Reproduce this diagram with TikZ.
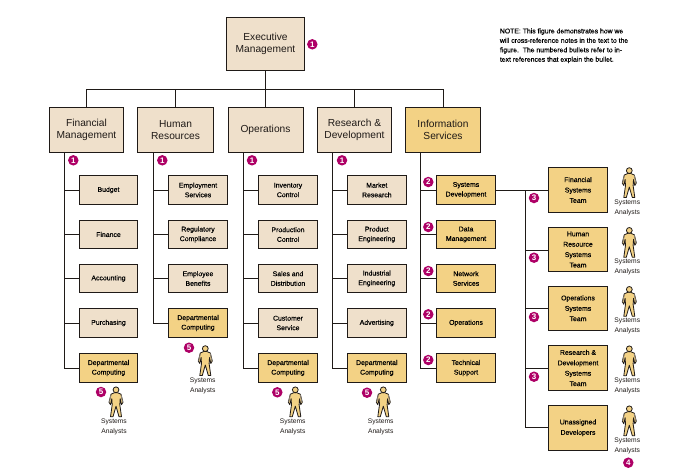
\documentclass[tikz,border=0pt]{standalone}
\usepackage{fontspec}
\setmainfont{Liberation Sans}
\newfontfamily\heavyfont[FakeBold=0.3]{Liberation Sans}
\definecolor{beigefill}{HTML}{EFE0CB}
\definecolor{goldfill}{HTML}{F3D285}
\definecolor{inkline}{HTML}{1F1A17}
\definecolor{bulletfill}{HTML}{AE0066}
\definecolor{armgray}{HTML}{8A8172}
\tikzset{
  boxbase/.style={draw=inkline,line width=1pt,align=center,text=black,inner sep=0pt},
  largebox/.style={boxbase,text=inkline,font=\fontsize{10.2}{12}\selectfont},
  execbox/.style={largebox,minimum width=78pt,minimum height=53pt},
  headbox/.style={largebox,minimum height=45.5pt},
  subbox/.style={boxbase,font=\heavyfont\fontsize{6.9}{9.6}\selectfont,minimum width=58.5pt,minimum height=28.5pt},
  teambox/.style={boxbase,font=\heavyfont\fontsize{6.9}{10.4}\selectfont,minimum width=59.4pt},
  beigebox/.style={fill=beigefill},
  goldbox/.style={fill=goldfill},
  link/.style={draw=inkline,line width=1pt},
  bullet/.style={circle,fill=bulletfill,text=white,inner sep=0pt,minimum size=10.5pt,font=\fontsize{8}{8}\selectfont\bfseries},
  roletext/.style={align=center,text=inkline,font=\fontsize{6.7}{10}\selectfont,inner sep=0pt},
  notetext/.style={align=left,anchor=north west,text=black,inner sep=0pt,font=\heavyfont\fontsize{6.85}{9.45}\selectfont},
  analyst/.pic={
    \fill[goldfill,draw=inkline,line width=0.8pt,line join=round]
      (-1.5,6) -- (-5,7.5) -- (-7,15.5) -- (-5.5,18) -- (-4.2,12) -- (-3.8,18) -- (-5.5,30) -- (-3,30) -- (0,19.5)
      -- (3,30) -- (5.5,30) -- (3.8,18) -- (4.2,12) -- (5.5,18) -- (7,15.5) -- (5,7.5) -- (1.5,6) -- cycle;
    \draw[armgray,line width=0.9pt] (-5,8) -- (-6.6,15.5) (5,8) -- (6.6,15.5);
    \fill[goldfill,draw=inkline,line width=0.8pt] (0,3.1) circle (2.9);
  }
}
\begin{document}
\begin{tikzpicture}[x=1pt,y=-1pt]
\useasboundingbox[fill=white] (0,0) rectangle (695,475);
% top levels
\node[execbox,beigebox] (exec) at (265.5,44) {Executive\\Management};
\node[headbox,beigebox,minimum width=74pt] (fin) at (86.5,129.75) {Financial\\Management};
\node[headbox,beigebox,minimum width=76pt] (hr) at (175.5,129.75) {Human\\Resources};
\node[headbox,beigebox,minimum width=75pt] (ops) at (265.5,129.75) {Operations};
\node[headbox,beigebox,minimum width=74.5pt] (rnd) at (354.5,129.75) {Research \&\\Development};
\node[headbox,goldbox,minimum width=75.5pt] (info) at (443,129.75) {Information\\Services};
\coordinate (bus) at (265.5,89.5);
\draw[link] (exec.south) -- (bus);
\draw[link] (bus) -| (fin.north);
\draw[link] (bus) -| (hr.north);
\draw[link] (bus) -- (ops.north);
\draw[link] (bus) -| (rnd.north);
\draw[link] (bus) -| (info.north);
% financial
\node[subbox,beigebox] (budget) at (108.5,190) {Budget};
\node[subbox,beigebox] (finance) at (108.5,234.5) {Finance};
\node[subbox,beigebox] (accounting) at (108.5,278.5) {Accounting};
\node[subbox,beigebox] (purchasing) at (108.5,323) {Purchasing};
\node[subbox,goldbox] (findc) at (108.5,368) {Departmental\\Computing};
\coordinate (finspine) at ([xshift=15pt]fin.south west);
\foreach \t in {budget,finance,accounting,purchasing,findc} \draw[link] (finspine) |- (\t.west);
% hr
\node[subbox,beigebox] (employment) at (198,190) {Employment\\Services};
\node[subbox,beigebox] (regulatory) at (198,234.5) {Regulatory\\Compliance};
\node[subbox,beigebox] (benefits) at (198,278.5) {Employee\\Benefits};
\node[subbox,goldbox] (hrdc) at (198,323) {Departmental\\Computing};
\coordinate (hrspine) at ([xshift=16pt]hr.south west);
\foreach \t in {employment,regulatory,benefits,hrdc} \draw[link] (hrspine) |- (\t.west);
% operations
\node[subbox,beigebox] (inventory) at (288,190) {Inventory\\Control};
\node[subbox,beigebox] (production) at (288,234.5) {Production\\Control};
\node[subbox,beigebox] (sales) at (288,278.5) {Sales and\\Distribution};
\node[subbox,beigebox] (customer) at (288,323) {Customer\\Service};
\node[subbox,goldbox] (opsdc) at (288,368) {Departmental\\Computing};
\coordinate (opsspine) at ([xshift=16pt]ops.south west);
\foreach \t in {inventory,production,sales,customer,opsdc} \draw[link] (opsspine) |- (\t.west);
% r&d
\node[subbox,beigebox] (market) at (376.8,190) {Market\\Research};
\node[subbox,beigebox] (product) at (376.8,234.5) {Product\\Engineering};
\node[subbox,beigebox] (industrial) at (376.8,278.5) {Industrial\\Engineering};
\node[subbox,beigebox] (advertising) at (376.8,323) {Advertising};
\node[subbox,goldbox] (rnddc) at (376.8,368) {Departmental\\Computing};
\coordinate (rndspine) at ([xshift=16pt]rnd.south west);
\foreach \t in {market,product,industrial,advertising,rnddc} \draw[link] (rndspine) |- (\t.west);
% information services
\node[subbox,goldbox] (sysdev) at (466,190) {Systems\\Development};
\node[subbox,goldbox] (datamgmt) at (466,234.5) {Data\\Management};
\node[subbox,goldbox] (network) at (466,278.5) {Network\\Services};
\node[subbox,goldbox] (isops) at (466,323) {Operations};
\node[subbox,goldbox] (techsup) at (466,368) {Technical\\Support};
\coordinate (infospine) at ([xshift=15.4pt]info.south west);
\foreach \t in {sysdev,datamgmt,network,isops,techsup} \draw[link] (infospine) |- (\t.west);
% teams
\node[teambox,goldbox,minimum height=45pt] (finteam) at (578,190) {Financial\\Systems\\Team};
\node[teambox,goldbox,minimum height=44.4pt] (hrteam) at (578,249.5) {Human\\Resource\\Systems\\Team};
\node[teambox,goldbox,minimum height=44pt] (opsteam) at (578,308.3) {Operations\\Systems\\Team};
\node[teambox,goldbox,minimum height=45.4pt] (rndteam) at (578,368) {Research \&\\Development\\Systems\\Team};
\node[teambox,goldbox,minimum height=45pt] (unassigned) at (578,427.8) {Unassigned\\Developers};
\coordinate (trunk) at (525.7,190);
\draw[link] (sysdev.east) -- (finteam.west);
\draw[link] (trunk) |- ([yshift=-1.2pt]hrteam.west);
\draw[link] (trunk) |- (opsteam.west);
\draw[link] (trunk) |- (rndteam.west);
\draw[link] (trunk) |- (unassigned.west);
% bullets
\node[bullet] (b0) at (312.3,44.3) {1};
\node[bullet] (b1) at (73.3,160.3) {1};
\node[bullet] (b2) at (162.3,160.3) {1};
\node[bullet] (b3) at (252,160.3) {1};
\node[bullet] (b4) at (342,160.3) {1};
\node[bullet] (c1) at (428.3,182) {2};
\node[bullet] (c2) at (428.3,227) {2};
\node[bullet] (c3) at (428.3,271) {2};
\node[bullet] (c4) at (428.3,314.3) {2};
\node[bullet] (c5) at (428.3,360) {2};
\node[bullet] (d1) at (534,198) {3};
\node[bullet] (d2) at (534,257.7) {3};
\node[bullet] (d3) at (534,317) {3};
\node[bullet] (d4) at (534,376.7) {3};
\node[bullet] (e1) at (628.3,462.7) {4};
\node[bullet] (f1) at (101,392) {5};
\node[bullet] (f2) at (189,347.7) {5};
\node[bullet] (f3) at (277.3,392.3) {5};
\node[bullet] (f4) at (367,392.7) {5};
% analysts
\pic (p1) at (116,386.7) {analyst};
\pic (p2) at (205.3,345.5) {analyst};
\pic (p3) at (295.3,386.7) {analyst};
\pic (p4) at (383.3,386.7) {analyst};
\pic (p5) at (629.3,167.5) {analyst};
\pic (p6) at (629.3,227.3) {analyst};
\pic (p7) at (629.3,286.3) {analyst};
\pic (p8) at (629.3,345.7) {analyst};
\pic (p9) at (629.3,405.7) {analyst};
\node[roletext] (a1) at (114,427.3) {Systems\\Analysts};
\node[roletext] (a2) at (202.7,385.8) {Systems\\Analysts};
\node[roletext] (a3) at (292.7,427.3) {Systems\\Analysts};
\node[roletext] (a4) at (380.7,427.3) {Systems\\Analysts};
\node[roletext] (a5) at (627.3,208.3) {Systems\\Analysts};
\node[roletext] (a6) at (627.3,267.3) {Systems\\Analysts};
\node[roletext] (a7) at (627.3,326.3) {Systems\\Analysts};
\node[roletext] (a8) at (627.3,386.3) {Systems\\Analysts};
\node[roletext] (a9) at (627.3,446.3) {Systems\\Analysts};
% note
\node[notetext] (note) at (499.7,28.2) {NOTE: This figure demonstrates how we\\will cross-reference notes in the text to the\\figure.\ \ The numbered bullets refer to in-\\text references that explain the bullet.};
\end{tikzpicture}
\end{document}
